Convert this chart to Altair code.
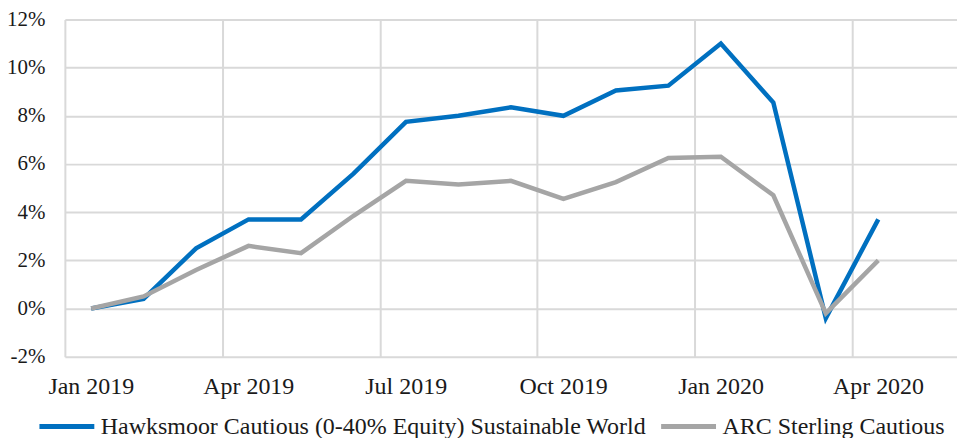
import json
import altair as alt
import pandas as pd

months = ["Jan 2019", "Feb 2019", "Mar 2019", "Apr 2019", "May 2019", "Jun 2019",
          "Jul 2019", "Aug 2019", "Sep 2019", "Oct 2019", "Nov 2019", "Dec 2019",
          "Jan 2020", "Feb 2020", "Mar 2020", "Apr 2020"]
hawksmoor = [0.0, 0.4, 2.5, 3.7, 3.7, 5.6, 7.75, 8.0, 8.35, 8.0, 9.05, 9.25,
             11.0, 8.55, -0.4, 3.7]
arc = [0.0, 0.5, 1.6, 2.6, 2.3, 3.85, 5.3, 5.15, 5.3, 4.55, 5.25, 6.25,
       6.3, 4.7, -0.2, 2.0]
series_names = ["Hawksmoor Cautious (0-40% Equity) Sustainable World",
                "ARC Sterling Cautious"]
colors = ["#0070C0", "#A5A5A5"]
tick_labels = ["Jan 2019", "Apr 2019", "Jul 2019", "Oct 2019", "Jan 2020", "Apr 2020"]
y_ticks = [-2, 0, 2, 4, 6, 8, 10, 12]

rows = []
for i, m in enumerate(months):
    rows.append({"month": m, "pos": i + 0.5, "series": series_names[0], "value": hawksmoor[i]})
    rows.append({"month": m, "pos": i + 0.5, "series": series_names[1], "value": arc[i]})
df = pd.DataFrame(rows)

tick_pos = [months.index(t) for t in tick_labels]
label_expr = json.dumps(dict(zip([str(p) for p in tick_pos], tick_labels)))
label_expr = f"{label_expr}[''+datum.value]"

FONT = "Liberation Serif"
TXT = "#1a1a1a"

x = alt.X("pos:Q",
          scale=alt.Scale(domain=[0, 17], nice=False, zero=False),
          axis=alt.Axis(values=tick_pos, labelExpr=label_expr, labelOffset=26,
                        title=None, ticks=False, domain=False, grid=True,
                        gridColor="#D9D9D9", gridWidth=2, labelFont=FONT,
                        labelFontSize=24, labelColor=TXT, labelPadding=18,
                        labelOverlap=False, labelFlush=False))
y = alt.Y("value:Q",
          scale=alt.Scale(domain=[-2, 12], nice=False, zero=False),
          axis=alt.Axis(values=y_ticks, labelExpr="datum.value + '%'",
                        title=None, ticks=False, domain=False, grid=True,
                        gridColor="#D9D9D9", gridWidth=2, labelFont=FONT,
                        labelFontSize=21, labelColor=TXT, labelPadding=20))
color = alt.Color("series:N",
                  scale=alt.Scale(domain=series_names, range=colors),
                  legend=alt.Legend(orient="none", legendX=-28, legendY=378,
                                    direction="horizontal", title=None,
                                    symbolType="stroke", symbolSize=3025,
                                    symbolStrokeWidth=5, labelFont=FONT,
                                    labelFontSize=24, labelColor=TXT,
                                    labelLimit=0, columnPadding=4,
                                    labelOffset=4))

base = alt.Chart(df).encode(x=x, y=y, color=color)
blue = base.transform_filter(alt.datum.series == series_names[0]).mark_line(strokeWidth=4.5)
grey = base.transform_filter(alt.datum.series == series_names[1]).mark_line(strokeWidth=4.5)

chart = alt.layer(blue, grey).properties(
    width=894, height=338,
    autosize=alt.AutoSizeParams(type="none"),
    padding={"left": 57, "top": 11, "right": 0, "bottom": 81},
).configure_view(stroke=None)

chart.save("out.html", embed_options={"renderer": "svg", "actions": False})
